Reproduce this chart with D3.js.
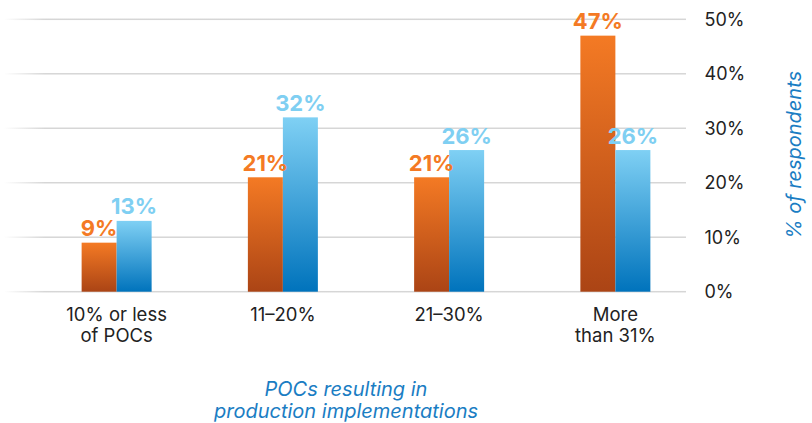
<!DOCTYPE html>
<html>
<head>
<meta charset="utf-8">
<script src="https://cdn.jsdelivr.net/npm/d3@7/dist/d3.min.js"></script>
<style>
  html, body { margin: 0; padding: 0; background: #fff; }
  svg { display: block; font-family: Inter, "Liberation Sans", Arial, sans-serif; }
</style>
</head>
<body>
<svg id="chart" width="812" height="423"></svg>
<script>
// Share of POCs that went on to production, by bucket
const categories = ["10% or less\nof POCs", "11–20%", "21–30%", "More\nthan 31%"];
const seriesOrange = [9, 21, 21, 47];
const seriesBlue = [13, 32, 26, 26];
const tickValues = [0, 10, 20, 30, 40, 50];
const tickLabels = ["0%", "10%", "20%", "30%", "40%", "50%"];
const yTitle = "% of respondents";
const xTitle = ["POCs resulting in", "production implementations"];

const svg = d3.select("#chart");
const plotLeft = 33.5, plotRight = 698.5;
const gridLeft = 4, gridRight = 686;

const x = d3.scaleBand().domain(categories).range([plotLeft, plotRight]).paddingInner(0).paddingOuter(0);
const y = d3.scaleLinear().domain([0, 50]).range([291.7, 19.3]);
const barW = 35;

const defs = svg.append("defs");
const og = defs.append("linearGradient").attr("id", "gOrange").attr("x1", 0).attr("y1", 0).attr("x2", 0).attr("y2", 1);
og.append("stop").attr("offset", "0%").attr("stop-color", "#f47a24");
og.append("stop").attr("offset", "100%").attr("stop-color", "#ab4415");
const bg = defs.append("linearGradient").attr("id", "gBlue").attr("x1", 0).attr("y1", 0).attr("x2", 0).attr("y2", 1);
bg.append("stop").attr("offset", "0%").attr("stop-color", "#7fd0f4");
bg.append("stop").attr("offset", "100%").attr("stop-color", "#0073bc");
const gg = defs.append("linearGradient").attr("id", "gGrid").attr("gradientUnits", "userSpaceOnUse")
  .attr("x1", gridLeft).attr("x2", gridRight).attr("y1", 0).attr("y2", 0);
gg.append("stop").attr("offset", "0%").attr("stop-color", "#d6d6d6").attr("stop-opacity", 0);
gg.append("stop").attr("offset", "6%").attr("stop-color", "#d6d6d6").attr("stop-opacity", 1);
gg.append("stop").attr("offset", "100%").attr("stop-color", "#d6d6d6").attr("stop-opacity", 1);

// Gridlines
svg.append("g").selectAll("rect").data(tickValues).join("rect")
  .attr("x", gridLeft).attr("width", gridRight - gridLeft)
  .attr("y", d => y(d) - 0.75).attr("height", 1.5)
  .attr("fill", "url(#gGrid)");

// Right axis tick labels
svg.append("g").selectAll("text").data(tickValues).join("text")
  .attr("x", 704.5).attr("y", d => y(d) + 6.5)
  .attr("font-size", 18).attr("fill", "#222")
  .text((d, i) => tickLabels[i]);

// Bars
const groups = svg.append("g").selectAll("g").data(categories).join("g");
const cx = c => x(c) + x.bandwidth() / 2;
groups.append("rect")
  .attr("x", c => cx(c) - barW).attr("width", barW)
  .attr("y", (c, i) => y(seriesOrange[i])).attr("height", (c, i) => y(0) - y(seriesOrange[i]))
  .attr("fill", "url(#gOrange)");
groups.append("rect")
  .attr("x", c => cx(c)).attr("width", barW)
  .attr("y", (c, i) => y(seriesBlue[i])).attr("height", (c, i) => y(0) - y(seriesBlue[i]))
  .attr("fill", "url(#gBlue)");

// Value labels
groups.append("text")
  .attr("x", c => cx(c) - barW / 2).attr("y", (c, i) => y(seriesOrange[i]) - 6.5)
  .attr("text-anchor", "middle").attr("font-size", 22).attr("font-weight", "bold")
  .attr("fill", "#f47a24")
  .text((c, i) => seriesOrange[i] + "%");
groups.append("text")
  .attr("x", c => cx(c) + barW / 2).attr("y", (c, i) => y(seriesBlue[i]) - 6.5)
  .attr("text-anchor", "middle").attr("font-size", 22).attr("font-weight", "bold")
  .attr("fill", "#7fcff2")
  .text((c, i) => seriesBlue[i] + "%");

// Category labels, one text per line
groups.each(function (c) {
  const lines = c.split("\n");
  d3.select(this).selectAll("text.cat").data(lines).join("text")
    .attr("class", "cat")
    .attr("text-anchor", "middle").attr("font-size", 18.5).attr("fill", "#222")
    .attr("x", cx(c)).attr("y", (d, i) => 321 + i * 20.5)
    .text(d => d);
});

// Axis titles
svg.append("text")
  .attr("transform", "translate(800.5,155) rotate(-90)")
  .attr("text-anchor", "middle").attr("font-size", 20).attr("font-style", "italic")
  .attr("fill", "#1a7dc3").text(yTitle);

svg.append("g").selectAll("text").data(xTitle).join("text")
  .attr("text-anchor", "middle").attr("font-size", 20).attr("font-style", "italic")
  .attr("fill", "#1a7dc3")
  .attr("x", 346).attr("y", (d, i) => 395.5 + i * 22.5)
  .text(d => d);
</script>
</body>
</html>
